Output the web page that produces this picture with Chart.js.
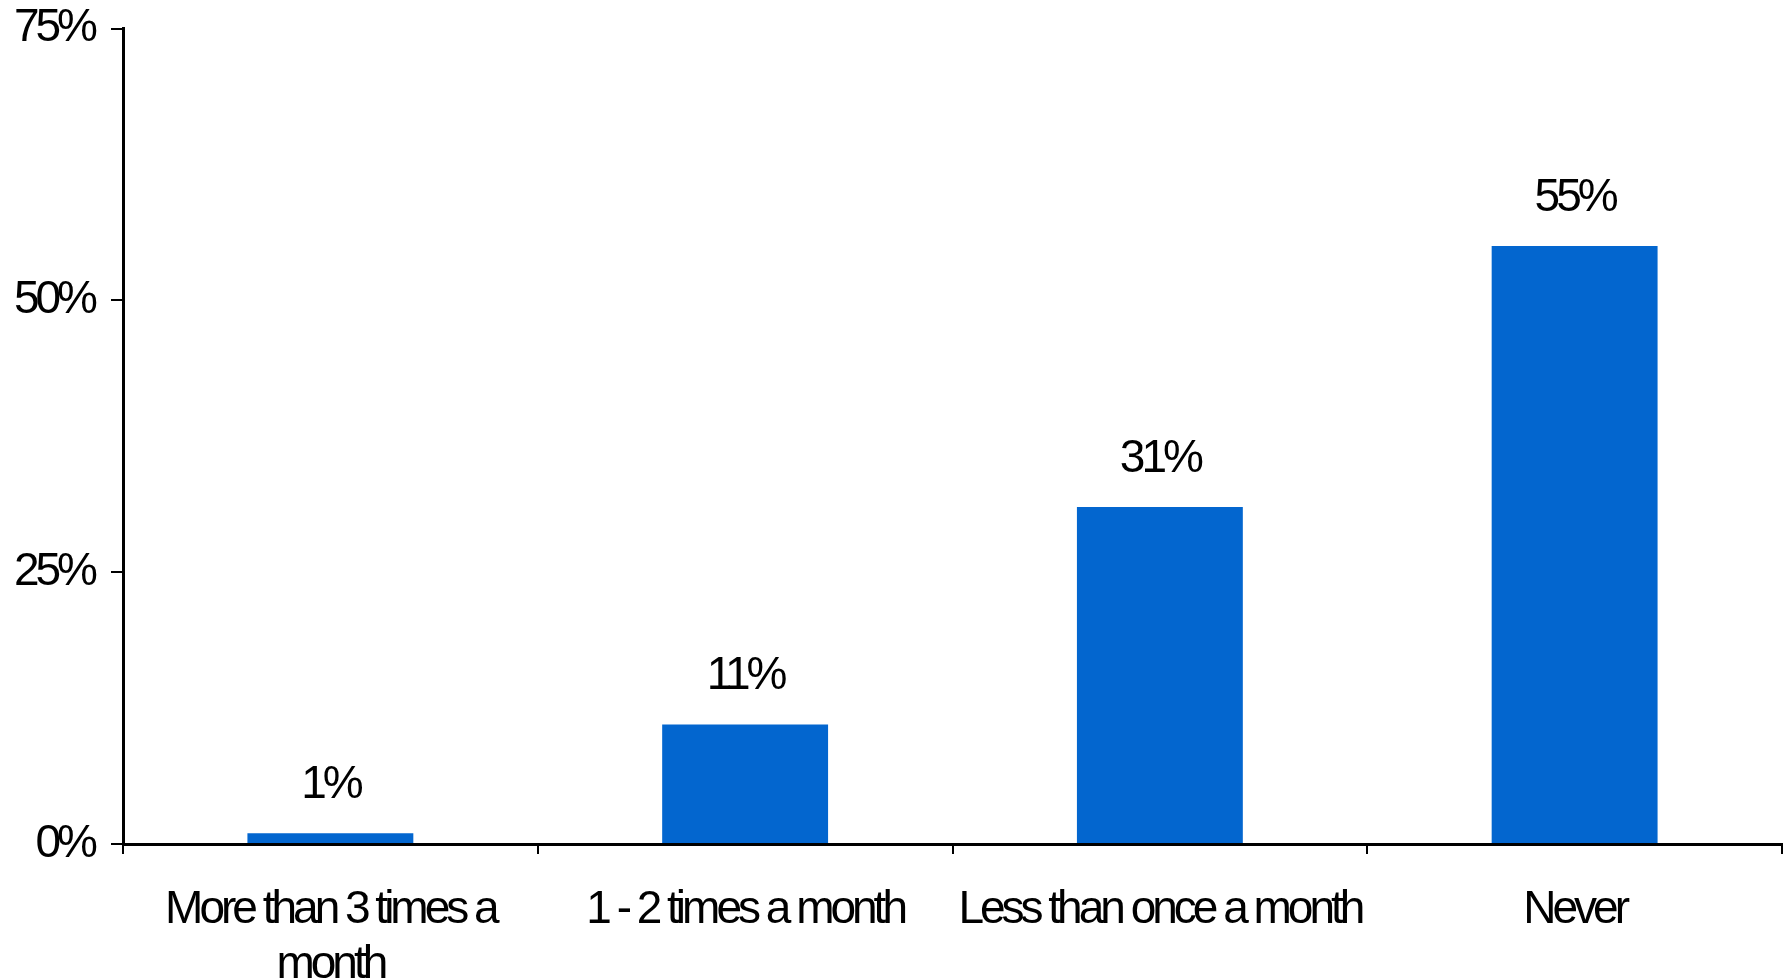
<!DOCTYPE html>
<html>
<head>
<meta charset="utf-8">
<style>
html,body{margin:0;padding:0;background:#fff;}
#wrap{width:1789px;height:980px;position:relative;}
</style>
<script src="https://cdn.jsdelivr.net/npm/chart.js@4/dist/chart.umd.min.js"></script>
</head>
<body>
<div id="wrap"><canvas id="c" width="1789" height="980"></canvas></div>
<script>
const categories = [["More than 3 times a", "month"], "1 - 2 times a month", "Less than once a month", "Never"];
const values = [1, 11, 31, 55];
const yTicks = [0, 25, 50, 75];

const FONT = '"Liberation Sans", Arial, sans-serif';
const SPACING = '-4px';
const SIZE = 46;

const tightText = {
  id: 'tightText',
  beforeLayout(chart) { chart.ctx.letterSpacing = SPACING; },
  beforeDraw(chart) { chart.ctx.letterSpacing = SPACING; }
};

const valueLabels = {
  id: 'valueLabels',
  afterDatasetsDraw(chart) {
    const ctx = chart.ctx;
    const meta = chart.getDatasetMeta(0);
    ctx.save();
    ctx.letterSpacing = SPACING;
    ctx.font = SIZE + 'px ' + FONT;
    ctx.fillStyle = '#000';
    ctx.textAlign = 'center';
    ctx.textBaseline = 'middle';
    meta.data.forEach((bar, i) => {
      ctx.fillText(values[i] + '%', bar.x, bar.y - 48);
    });
    ctx.restore();
  }
};

new Chart(document.getElementById('c'), {
  type: 'bar',
  data: {
    labels: categories,
    datasets: [{
      data: values,
      backgroundColor: '#0366cf',
      borderWidth: 0,
      categoryPercentage: 0.8,
      barPercentage: 0.5
    }]
  },
  options: {
    responsive: false,
    animation: false,
    layout: { padding: { top: 12, right: 7, left: 0, bottom: 0 } },
    plugins: { legend: { display: false }, tooltip: { enabled: false } },
    scales: {
      x: {
        grid: { offset: true, drawOnChartArea: false, drawTicks: true, tickLength: 10, color: '#000', lineWidth: 2 },
        border: { color: '#000', width: 3 },
        ticks: { color: '#000', font: { family: FONT, size: SIZE, lineHeight: 1.2 }, padding: 29, maxRotation: 0, autoSkip: false },
        afterFit(s) { s.height = 136; }
      },
      y: {
        min: 0, max: 75,
        afterBuildTicks(s) { s.ticks = yTicks.map(v => ({ value: v })); },
        grid: { drawOnChartArea: false, drawTicks: true, tickLength: 12, color: '#000', lineWidth: 2 },
        border: { color: '#000', width: 3 },
        ticks: { color: '#000', font: { family: FONT, size: SIZE, lineHeight: 0.5 }, padding: 17, callback: v => v + '%' },
        afterFit(s) { s.width = 123; }
      }
    }
  },
  plugins: [tightText, valueLabels]
});
</script>
</body>
</html>
